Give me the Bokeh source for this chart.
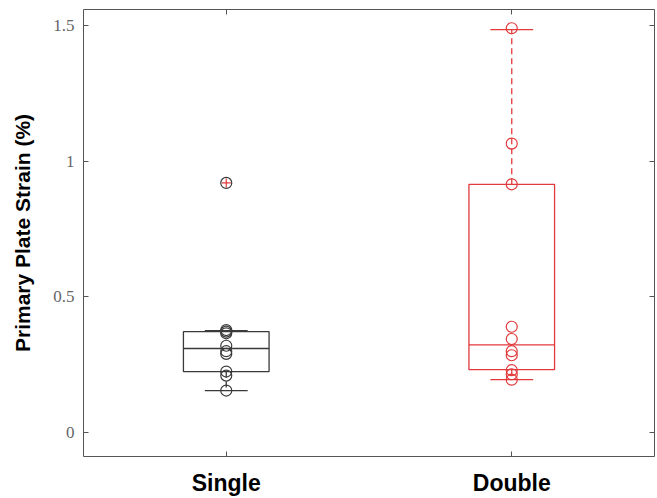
from bokeh.plotting import figure
from bokeh.models import Range1d, FixedTicker, LinearAxis, CustomJSTickFormatter, ColumnDataSource
from bokeh.embed import file_html
from bokeh.resources import INLINE

# ---- data ----
groups = ["Single", "Double"]
group_pos = [1, 2]
single_values = [0.92, 0.378, 0.372, 0.366, 0.32, 0.30, 0.29, 0.225, 0.21, 0.155]
double_values = [1.49, 1.065, 0.915, 0.39, 0.345, 0.30, 0.285, 0.23, 0.215, 0.195]
# box statistics: q1, median, q3, lower whisker, upper whisker
q1 = [0.225, 0.232]
median = [0.31, 0.323]
q3 = [0.372, 0.915]
whisk_lo = [0.155, 0.195]
whisk_hi = [0.376, 1.485]
outliers_x = [1]
outliers_y = [0.92]
y_ticks = [0, 0.5, 1, 1.5]

colors = ["#3a3a3a", "#e2393c"]
box_w = 0.3
cap_w = 0.15

p = figure(width=657, height=498, output_backend="svg", toolbar_location=None,
           x_range=Range1d(0.5, 2.5), y_range=Range1d(-0.088, 1.559),
           min_border_left=83, min_border_right=3, min_border_top=9, min_border_bottom=41)
p.background_fill_color = "white"
p.border_fill_color = "white"
p.outline_line_color = "#555555"
p.outline_line_width = 1
p.xgrid.visible = False
p.ygrid.visible = False

# bottom axis
xa = p.xaxis[0]
xa.ticker = FixedTicker(ticks=group_pos)
xa.major_label_overrides = {1: groups[0], 2: groups[1]}
xa.major_label_text_font = "Liberation Sans"
xa.major_label_text_font_style = "bold"
xa.major_label_text_font_size = "23px"
xa.major_label_text_color = "black"
xa.major_label_standoff = 13
xa.major_tick_in = 5
xa.major_tick_out = 0
xa.minor_tick_line_color = None
xa.axis_line_color = None
xa.major_tick_line_color = "#555555"

# left axis
ya = p.yaxis[0]
ya.ticker = FixedTicker(ticks=y_ticks)
ya.formatter = CustomJSTickFormatter(code="return String(tick)")
ya.major_label_text_font = "Liberation Serif"
ya.major_label_text_font_size = "17px"
ya.major_label_text_color = "#666666"
ya.major_label_standoff = 9
ya.major_tick_in = 5
ya.major_tick_out = 0
ya.minor_tick_line_color = None
ya.axis_line_color = None
ya.major_tick_line_color = "#555555"
ya.axis_label = "Primary Plate Strain (%)"
ya.axis_label_text_font = "Liberation Sans"
ya.axis_label_text_font_style = "bold"
ya.axis_label_text_font_size = "21px"
ya.axis_label_text_color = "black"
ya.axis_label_standoff = 16

# top / right ticks (box on)
blank = CustomJSTickFormatter(code="return ''")
ra = LinearAxis(ticker=FixedTicker(ticks=y_ticks), formatter=blank,
                major_tick_in=5, major_tick_out=0, minor_tick_line_color=None,
                axis_line_color=None, major_tick_line_color="#555555", major_label_standoff=0)
p.add_layout(ra, "right")
ta = LinearAxis(ticker=FixedTicker(ticks=group_pos), formatter=blank,
                major_tick_in=5, major_tick_out=0, minor_tick_line_color=None,
                axis_line_color=None, major_tick_line_color="#555555", major_label_standoff=0)
p.add_layout(ta, "above")

for i, (pos, col) in enumerate(zip(group_pos, colors)):
    # whiskers (dashed)
    p.segment(x0=[pos, pos], y0=[q3[i], q1[i]], x1=[pos, pos], y1=[whisk_hi[i], whisk_lo[i]],
              line_color=col, line_width=1.3, line_dash="6 4")
    # caps
    p.segment(x0=[pos - cap_w / 2] * 2, y0=[whisk_hi[i], whisk_lo[i]],
              x1=[pos + cap_w / 2] * 2, y1=[whisk_hi[i], whisk_lo[i]],
              line_color=col, line_width=1.3)
    # box
    p.quad(left=[pos - box_w / 2], right=[pos + box_w / 2], bottom=[q1[i]], top=[q3[i]],
           fill_color=None, line_color=col, line_width=1.3)
    # median
    p.segment(x0=[pos - box_w / 2], y0=[median[i]], x1=[pos + box_w / 2], y1=[median[i]],
              line_color=col, line_width=1.3)

# outlier marker
p.scatter(x=outliers_x, y=outliers_y, marker="cross", size=9, line_color="#e2393c", line_width=1.2)

# data points
src_s = ColumnDataSource(dict(x=[group_pos[0]] * len(single_values), y=single_values))
src_d = ColumnDataSource(dict(x=[group_pos[1]] * len(double_values), y=double_values))
p.scatter("x", "y", source=src_s, marker="circle", size=11, fill_color=None,
          line_color=colors[0], line_width=1.2)
p.scatter("x", "y", source=src_d, marker="circle", size=11, fill_color=None,
          line_color=colors[1], line_width=1.2)

open("out.html", "w").write(file_html(p, INLINE))
